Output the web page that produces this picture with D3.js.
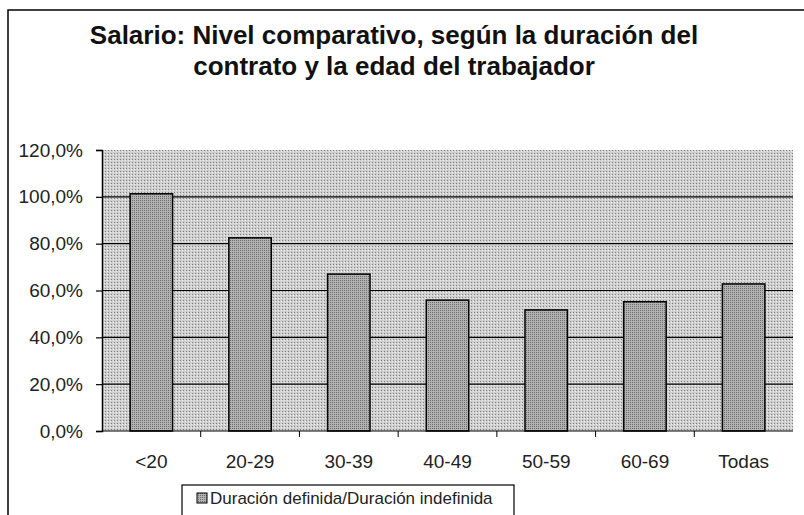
<!DOCTYPE html>
<html>
<head>
<meta charset="utf-8">
<script src="https://cdn.jsdelivr.net/npm/d3@7"></script>
<style>
  body { margin: 0; background: #fff; }
  svg text { font-family: "Liberation Sans", Arial, sans-serif; }
</style>
</head>
<body>
<div id="vis"></div>
<script>
// chart data
let categories = ['<20', '20-29', '30-39', '40-49', '50-59', '60-69', 'Todas'];
let values = [101.3, 82.5, 67.0, 55.9, 51.7, 55.2, 62.8];
let yTicks = [0, 20, 40, 60, 80, 100, 120];
let seriesName = 'Duración definida/Duración indefinida';
let titleLines = ['Salario: Nivel comparativo, según la duración del',
  'contrato y la edad del trabajador'];

let width = 804;
let height = 515;
let plot = { left: 102, right: 793, top: 150, bottom: 431 };

let svg = d3.select('#vis').append('svg')
  .attr('width', width)
  .attr('height', height);

// dither-ish texture for the plot area and bars
let defs = svg.append('defs');
let pat = defs.append('pattern')
  .attr('id', 'dots')
  .attr('width', 3).attr('height', 3)
  .attr('patternUnits', 'userSpaceOnUse');
pat.append('rect').attr('width', 3).attr('height', 3).attr('fill', '#cfcfcf');
pat.append('rect').attr('x', 0).attr('y', 0).attr('width', 1).attr('height', 1).attr('fill', '#808080');
pat.append('rect').attr('x', 2).attr('y', 1).attr('width', 1).attr('height', 1).attr('fill', '#efefef');

let pat2 = defs.append('pattern')
  .attr('id', 'bardots')
  .attr('width', 2).attr('height', 2)
  .attr('patternUnits', 'userSpaceOnUse');
pat2.append('rect').attr('width', 2).attr('height', 2).attr('fill', '#b2b2b2');
pat2.append('rect').attr('x', 0).attr('y', 0).attr('width', 1).attr('height', 1).attr('fill', '#6e6e6e');

// outer chart border (cut at the window edges)
svg.append('path')
  .attr('d', 'M8,' + (height + 2) + 'V10H' + (width + 2))
  .attr('fill', 'none')
  .attr('stroke', '#000')
  .attr('stroke-width', 1.5);

// title
svg.append('g').selectAll('text')
  .data(titleLines)
  .join('text')
  .attr('x', 394)
  .attr('y', (d, i) => 44 + i * 31)
  .attr('text-anchor', 'middle')
  .attr('font-size', 26)
  .attr('font-weight', 'bold')
  .attr('fill', '#111')
  .text(d => d);

let x = d3.scaleBand()
  .domain(categories)
  .range([plot.left, plot.right])
  .paddingInner(0.57)
  .paddingOuter(0.285);

let xCat = d3.scaleBand()
  .domain(categories)
  .range([plot.left, plot.right]);

let y = d3.scaleLinear()
  .domain([0, 120])
  .range([plot.bottom, plot.top]);

// plot background
svg.append('rect')
  .attr('x', plot.left)
  .attr('y', plot.top)
  .attr('width', plot.right - plot.left)
  .attr('height', plot.bottom - plot.top)
  .attr('fill', 'url(#dots)');

// gridlines
svg.append('g')
  .selectAll('line')
  .data(yTicks.filter(d => d > 0 && d < 120))
  .join('line')
  .attr('x1', plot.left)
  .attr('x2', plot.right)
  .attr('y1', d => y(d))
  .attr('y2', d => y(d))
  .attr('stroke', '#000')
  .attr('stroke-width', 1.2);

// bars
svg.append('g')
  .selectAll('rect')
  .data(values)
  .join('rect')
  .attr('x', (d, i) => x(categories[i]))
  .attr('y', d => y(d))
  .attr('width', x.bandwidth())
  .attr('height', d => y(0) - y(d))
  .attr('fill', 'url(#bardots)')
  .attr('stroke', '#000')
  .attr('stroke-width', 1.5);

// y axis
let yAxis = d3.axisLeft(y)
  .tickValues(yTicks)
  .tickSize(6)
  .tickPadding(13)
  .tickFormat(d => d3.format('.1f')(d).replace('.', ',') + '%');
let yg = svg.append('g')
  .attr('transform', 'translate(' + plot.left + ',0)')
  .call(yAxis);
yg.select('.domain').attr('stroke', '#000').attr('stroke-width', 1.5);
yg.selectAll('line').attr('stroke', '#000').attr('stroke-width', 1.2);
yg.selectAll('text')
  .attr('font-size', 19)
  .attr('fill', '#222');

// x axis with ticks at category boundaries
let xAxis = d3.axisBottom(xCat).tickSize(0).tickPadding(24);
let xg = svg.append('g')
  .attr('transform', 'translate(0,' + plot.bottom + ')')
  .call(xAxis);
xg.select('.domain').remove();
xg.selectAll('text')
  .attr('font-size', 19)
  .attr('fill', '#222');
xg.append('line')
  .attr('x1', plot.left).attr('x2', plot.right)
  .attr('stroke', '#000').attr('stroke-width', 1.2);
xg.selectAll('.bound')
  .data(categories.slice(1))
  .join('line')
  .attr('class', 'bound')
  .attr('x1', d => xCat(d))
  .attr('x2', d => xCat(d))
  .attr('y1', 0)
  .attr('y2', 6)
  .attr('stroke', '#000');

// legend
let lg = svg.append('g').attr('transform', 'translate(182,485)');
lg.append('rect')
  .attr('width', 332)
  .attr('height', 34)
  .attr('fill', '#fff')
  .attr('stroke', '#000')
  .attr('stroke-width', 1.2);
lg.append('rect')
  .attr('x', 15).attr('y', 8)
  .attr('width', 10).attr('height', 10)
  .attr('fill', 'url(#bardots)')
  .attr('stroke', '#000');
lg.append('text')
  .attr('x', 28)
  .attr('y', 19)
  .attr('font-size', 17)
  .attr('fill', '#222')
  .text(seriesName);
</script>
</body>
</html>
